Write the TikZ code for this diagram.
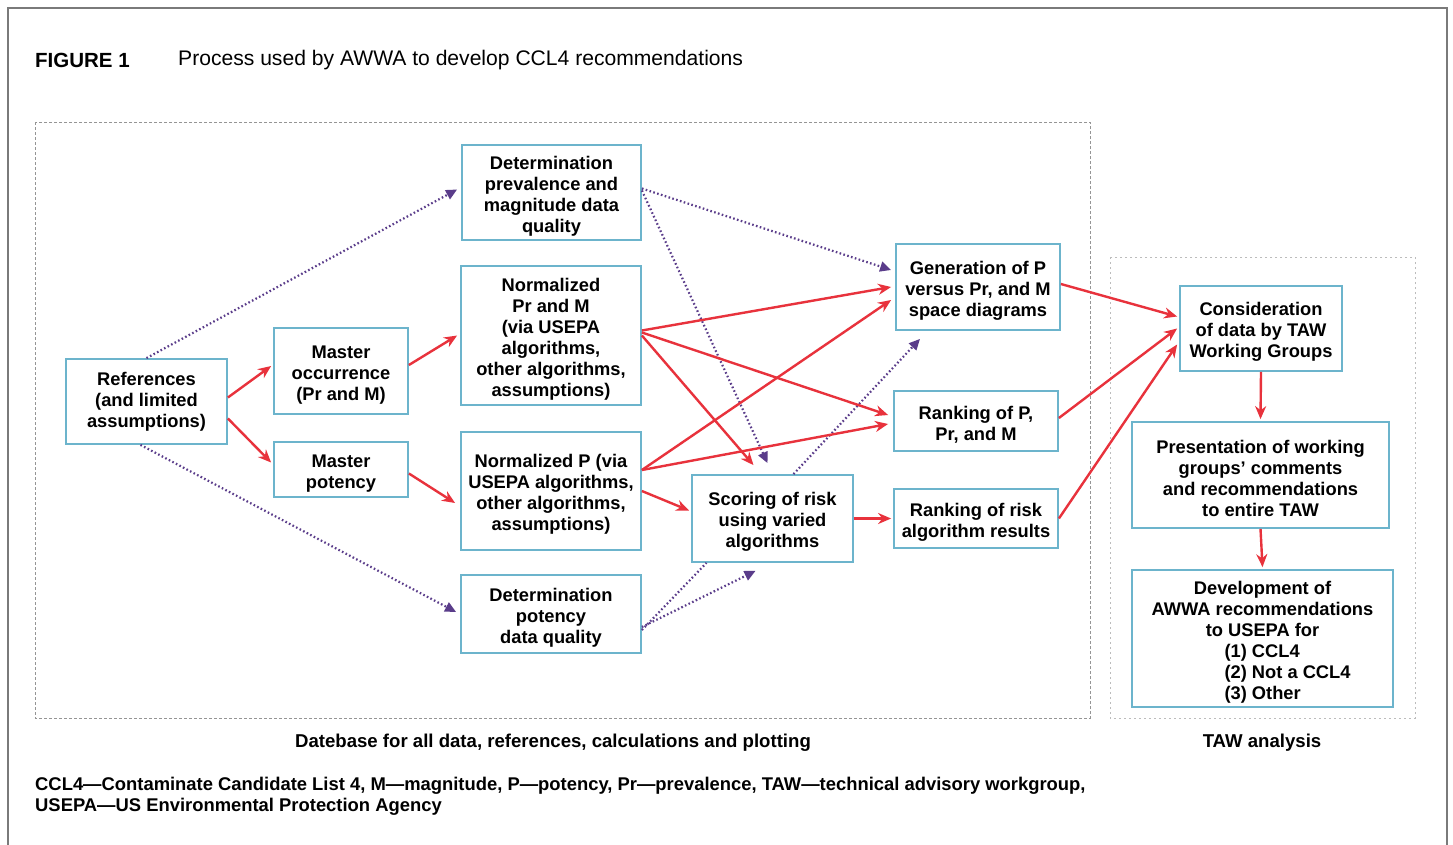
\documentclass[tikz,border=0pt]{standalone}
\usepackage{fontspec}
\setmainfont{Liberation Sans}
\usetikzlibrary{arrows.meta}
\definecolor{boxc}{HTML}{6CB4CC}
\definecolor{redc}{HTML}{E8323C}
\definecolor{purc}{HTML}{5A3C8A}
\definecolor{framec}{HTML}{7A7A7A}
\newcommand\mytop{\rule{0pt}{20pt}}
\begin{document}
\begin{tikzpicture}[x=1pt,y=-1pt,
  box/.style={draw=boxc, line width=1.8pt, fill=white, align=center, inner sep=0pt,
    font=\bfseries\fontsize{18.3}{21}\selectfont},
  redarr/.style={draw=redc, line width=2.4pt, -{Stealth[length=13pt,width=11pt]}},
  redline/.style={draw=redc, line width=2.4pt},
  purarr/.style={draw=purc, line width=2.2pt, dash pattern=on 1.6pt off 2.4pt, -{Triangle[length=11pt,width=10pt]}},
  purline/.style={draw=purc, line width=2.2pt, dash pattern=on 1.6pt off 2.4pt},
  area/.style={draw=framec!80, line width=1pt, dash pattern=on 3pt off 2pt},
  lbl/.style={inner sep=0pt, font=\bfseries\fontsize{18.6}{21}\selectfont}
]
\useasboundingbox (0,0) rectangle (1453,844);
\fill[white] (0,0) rectangle (1453,844);
% outer frame
\draw[framec, line width=2pt] (8,850) -- (8,8) -- (1447,8) -- (1447,850);
% title
\node[anchor=west, inner sep=0pt, font=\bfseries\fontsize{20.5}{24}\selectfont] (fig) at (35,60) {FIGURE 1};
\node[anchor=west, inner sep=0pt, font=\fontsize{21.1}{24}\selectfont] (title) at (178,60) {Process used by AWWA to develop CCL4 recommendations};
% areas
\draw[area] (35,122) rectangle (1090,718);
\draw[area, draw=framec!50, dash pattern=on 2pt off 3pt] (1110,257) rectangle (1415,718);
% boxes
\node[box, minimum width=161pt, minimum height=85pt] (refs) at (146.5,401.5) {References\\(and limited\\assumptions)};
\node[box, minimum width=134pt, minimum height=86pt] (mocc) at (341,371) {\mytop Master\\occurrence\\(Pr and M)};
\node[box, minimum width=134pt, minimum height=55pt] (mpot) at (341,469.5) {\mytop Master\\potency};
\node[box, minimum width=179pt, minimum height=95pt] (detprev) at (551.5,192.5) {\mytop Determination\\prevalence and\\magnitude data\\quality};
\node[box, minimum width=180pt, minimum height=139pt] (normPrM) at (551,335.5) {\mytop Normalized\\Pr and M\\(via USEPA\\algorithms,\\other algorithms,\\assumptions)};
\node[box, minimum width=180pt, minimum height=118pt] (normP) at (551,491) {\mytop Normalized P (via\\USEPA algorithms,\\other algorithms,\\assumptions)};
\node[box, minimum width=180pt, minimum height=78pt] (detpot) at (551,614) {\mytop Determination\\potency\\data quality};
\node[box, minimum width=161pt, minimum height=87pt] (scoring) at (772.5,518.5) {\mytop Scoring of risk\\using varied\\algorithms};
\node[box, minimum width=164pt, minimum height=86pt] (gen) at (978,287) {\mytop Generation of P\\versus Pr, and M\\space diagrams};
\node[box, minimum width=164pt, minimum height=60pt] (rankP) at (976,421) {\mytop Ranking of P,\\Pr, and M};
\node[box, minimum width=164pt, minimum height=59pt] (rankR) at (976,518.5) {\mytop Ranking of risk\\algorithm results};
\node[box, minimum width=162pt, minimum height=85pt] (consid) at (1261,328.5) {\mytop Consideration\\of data by TAW\\Working Groups};
\node[box, minimum width=257pt, minimum height=106pt] (present) at (1260.5,475) {\mytop Presentation of working\\groups' comments\\and recommendations\\to entire TAW};
\node[box, minimum width=261pt, minimum height=137pt] (develop) at (1262.5,638.5) {\mytop Development of\\AWWA recommendations\\to USEPA for\\\makebox[76pt][l]{(1) CCL4}\\\makebox[76pt][l]{(2) Not a CCL4}\\\makebox[76pt][l]{(3) Other}};
% labels
\node[lbl] (dblbl) at (553,743) {Datebase for all data, references, calculations and plotting};
\node[lbl] (tawlbl) at (1262,743) {TAW analysis};
\node[anchor=west, inner sep=0pt, font=\bfseries\fontsize{18.4}{21}\selectfont] (cap1) at (35,786) {CCL4—Contaminate Candidate List 4, M—magnitude, P—potency, Pr—prevalence, TAW—technical advisory workgroup,};
\node[anchor=west, inner sep=0pt, font=\bfseries\fontsize{18.4}{21}\selectfont] (cap2) at (35,807) {USEPA—US Environmental Protection Agency};
% purple dotted connectors
\draw[purarr] (refs.north) -- ([xshift=-4pt,yshift=3pt]detprev.west);
\draw[purarr] ([xshift=-6pt]refs.south) -- ([xshift=-4pt,yshift=2pt]detpot.west);
\draw[purarr] ([yshift=4pt]detprev.east) -- ([xshift=-4pt,yshift=17pt]gen.west);
\draw[purarr] ([yshift=2pt]detprev.east) -- ([xshift=-5pt,yshift=11pt]scoring.north);
\draw[purarr] ([xshift=21pt]scoring.north) -- ([xshift=-58pt,yshift=-8pt]gen.south);
\draw[purline] ([yshift=-16pt]detpot.east) -- ([xshift=-66pt]scoring.south);
\draw[purarr] ([yshift=-13pt]detpot.east) -- ([xshift=-17pt,yshift=-8pt]scoring.south);
% red connectors
\draw[redarr] ([yshift=4pt]refs.east) -- ([xshift=-2pt,yshift=5pt]mocc.west);
\draw[redarr] ([yshift=-17pt]refs.east) -- ([xshift=-2pt,yshift=7pt]mpot.west);
\draw[redarr] ([yshift=6pt]mocc.east) -- ([xshift=-3pt]normPrM.west);
\draw[redarr] ([yshift=-4pt]mpot.east) -- ([xshift=-5pt,yshift=-12pt]normP.west);
\draw[redarr] ([yshift=5pt]normPrM.east) -- ([xshift=-4pt]gen.west);
\draw[redarr] ([yshift=3pt]normPrM.east) -- ([xshift=-5pt,yshift=6pt]rankP.west);
\draw[redarr] (normPrM.east) -- ([xshift=-19pt,yshift=9pt]scoring.north);
\draw[redarr] ([yshift=21pt]normP.east) -- ([xshift=-4pt,yshift=-13pt]gen.west);
\draw[redarr] ([yshift=21pt]normP.east) -- ([xshift=-5pt,yshift=-3pt]rankP.west);
\draw[redarr] (normP.east) -- ([xshift=-2pt,yshift=8pt]scoring.west);
\draw[redarr] (scoring.east) -- ([xshift=-2pt]rankR.west);
\draw[redarr] ([yshift=3pt]gen.east) -- ([xshift=-2pt,yshift=12pt]consid.west);
\draw[redarr] ([yshift=3pt]rankP.east) -- ([xshift=-2pt]consid.west);
\draw[redarr] (rankR.east) -- ([xshift=-2pt,yshift=-16pt]consid.west);
\draw[redarr] (consid.south) -- ([yshift=2pt]present.north);
\draw[redarr] (present.south) -- ([yshift=2pt]develop.north);
\end{tikzpicture}
\end{document}
